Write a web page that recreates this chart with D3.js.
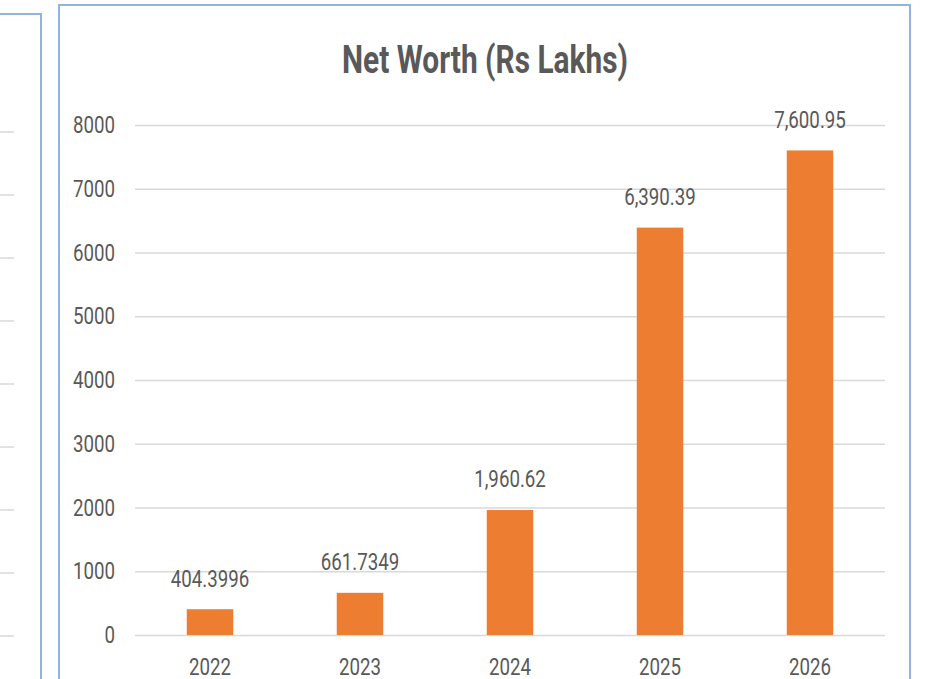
<!DOCTYPE html>
<html>
<head>
<meta charset="utf-8">
<script src="https://cdn.jsdelivr.net/npm/d3@7"></script>
<style>
  body { margin: 0; background: #fff; }
  svg { display: block; }
  text { font-family: Roboto, "Liberation Sans", sans-serif; fill: #595959; }
  /* the original uses a narrow font, squeeze the glyphs a bit */
  .narrow { transform-box: fill-box; transform-origin: center; transform: scale(0.85, 1.06); }
  .narrow-right { transform-box: fill-box; transform-origin: right center; transform: scale(0.85, 1.06); }
</style>
</head>
<body>
<svg id="chart"></svg>
<script>
const years = ['2022', '2023', '2024', '2025', '2026'];
const netWorth = [404.3996, 661.7349, 1960.62, 6390.39, 7600.95];
const valueLabels = ['404.3996', '661.7349', '1,960.62', '6,390.39', '7,600.95'];
const yTicks = [0, 1000, 2000, 3000, 4000, 5000, 6000, 7000, 8000];

const width = 933, height = 679;
const svg = d3.select('#chart').attr('width', width).attr('height', height);

// neighbouring chart, only its right edge shows
svg.append('rect')
    .attr('x', -20).attr('y', 14)
    .attr('width', 61).attr('height', 700)
    .attr('fill', 'none').attr('stroke', '#8fb4e0').attr('stroke-width', 2);

const yLeft = d3.scaleLinear().domain([0, 8000]).range([636, 132]);
svg.selectAll('.stub')
    .data(yTicks)
    .enter()
    .append('line')
    .attr('x1', 0).attr('x2', 14)
    .attr('y1', d => yLeft(d)).attr('y2', d => yLeft(d))
    .attr('stroke', '#d9d9d9').attr('stroke-width', 1.5);

// main chart frame
svg.append('rect')
    .attr('x', 59).attr('y', 5)
    .attr('width', 851).attr('height', 700)
    .attr('fill', '#fff').attr('stroke', '#8fb4e0').attr('stroke-width', 2);

const x = d3.scaleBand().domain(years).range([135, 885]).paddingInner(0.69).paddingOuter(0.345);
const y = d3.scaleLinear().domain([0, 8000]).range([635, 125]);

svg.append('text')
    .attr('x', 485).attr('y', 73)
    .attr('text-anchor', 'middle')
    .attr('textLength', 286)
    .attr('lengthAdjust', 'spacingAndGlyphs')
    .style('font-size', '38px')
    .style('font-weight', 'bold')
    .text('Net Worth (Rs Lakhs)');

const yAxis = svg.append('g')
    .attr('transform', 'translate(135,0)')
    .call(d3.axisLeft(y).tickValues(yTicks).tickSize(-750).tickPadding(20).tickFormat(d3.format('d')));
yAxis.select('.domain').remove();
yAxis.selectAll('line').attr('stroke', '#d9d9d9').attr('stroke-width', 1.5);
yAxis.selectAll('text').attr('class', 'narrow-right').style('font-size', '22px').attr('fill', '#595959').attr('font-family', null);

const xAxis = svg.append('g')
    .attr('transform', 'translate(0,635)')
    .call(d3.axisBottom(x).tickSize(0).tickPadding(24));
xAxis.select('.domain').remove();
xAxis.selectAll('text').attr('class', 'narrow').style('font-size', '22px').attr('fill', '#595959').attr('font-family', null);

svg.selectAll('.bar')
    .data(netWorth)
    .enter()
    .append('rect')
    .attr('class', 'bar')
    .attr('x', (d, i) => x(years[i]))
    .attr('y', d => y(d))
    .attr('width', x.bandwidth())
    .attr('height', d => y(0) - y(d))
    .attr('fill', '#ed7d31');

svg.selectAll('.val')
    .data(netWorth)
    .enter()
    .append('text')
    .attr('class', 'narrow')
    .attr('x', (d, i) => x(years[i]) + x.bandwidth() / 2)
    .attr('y', d => y(d) - 23)
    .attr('text-anchor', 'middle')
    .style('font-size', '22px')
    .text((d, i) => valueLabels[i]);
</script>
</body>
</html>
